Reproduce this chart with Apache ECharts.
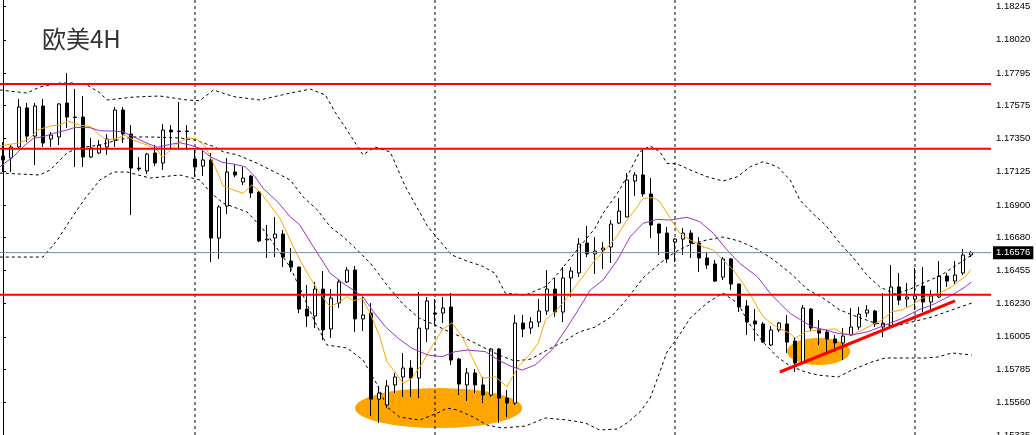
<!DOCTYPE html>
<html>
<head>
<meta charset="utf-8">
<title>欧美4H</title>
<script src="https://cdn.jsdelivr.net/npm/echarts@6/dist/echarts.min.js"></script>
<style>
html, body { margin: 0; padding: 0; background: #fff; }
#chart { width: 1036px; height: 435px; }
</style>
</head>
<body>
<div id="chart"></div>
<script>
// 4H candles: [open, close, low, high]
var candles = [
  [1.17232,1.17205,1.17123,1.17327],[1.17218,1.17293,1.17123,1.17306],[1.17293,1.17564,1.17286,1.17619],
  [1.17558,1.17367,1.17327,1.17591],[1.17367,1.17571,1.17171,1.17591],[1.17571,1.17320,1.17293,1.17619],
  [1.17347,1.17374,1.17293,1.17395],[1.17361,1.17585,1.17306,1.17591],[1.17591,1.17496,1.17422,1.17795],
  [1.17496,1.17493,1.17157,1.17687],[1.17496,1.17225,1.17157,1.17639],[1.17225,1.17286,1.17218,1.17354],
  [1.17252,1.17306,1.17245,1.17340],[1.17293,1.17347,1.17239,1.17381],[1.17340,1.17544,1.17293,1.17564],
  [1.17544,1.17381,1.17320,1.17564],[1.17381,1.17150,1.16831,1.17442],[1.17150,1.17144,1.17130,1.17225],
  [1.17130,1.17245,1.17110,1.17252],[1.17252,1.17184,1.17164,1.17306],[1.17184,1.17408,1.17137,1.17449],
  [1.17408,1.17395,1.17273,1.17442],[1.17401,1.17398,1.17273,1.17598],[1.17401,1.17398,1.17273,1.17442],
  [1.17211,1.17157,1.17089,1.17273],[1.17164,1.17205,1.17096,1.17273],[1.17205,1.16675,1.16512,1.17252],
  [1.16675,1.16886,1.16533,1.16899],[1.16892,1.17123,1.16838,1.17218],[1.17123,1.17103,1.17089,1.17177],
  [1.17055,1.17082,1.17035,1.17157],[1.17096,1.16981,1.16947,1.17103],[1.16987,1.16655,1.16648,1.16994],
  [1.16662,1.16668,1.16540,1.16764],[1.16675,1.16702,1.16546,1.16818],[1.16702,1.16546,1.16478,1.16730],
  [1.16519,1.16478,1.16444,1.16607],[1.16478,1.16193,1.16166,1.16480],[1.16193,1.16146,1.16071,1.16356],
  [1.16146,1.16329,1.16064,1.16377],[1.16329,1.16051,1.15983,1.16451],[1.16058,1.16268,1.15997,1.16329],
  [1.16234,1.16377,1.16200,1.16397],[1.16377,1.16458,1.16370,1.16478],[1.16458,1.16126,1.16037,1.16485],
  [1.16126,1.16153,1.16044,1.16275],[1.16166,1.15582,1.15467,1.16234],[1.15582,1.15623,1.15420,1.15671],
  [1.15542,1.15671,1.15521,1.15711],[1.15678,1.15732,1.15623,1.15759],[1.15732,1.15793,1.15596,1.15895],
  [1.15793,1.15725,1.15596,1.15847],[1.15725,1.16064,1.15589,1.16309],[1.16058,1.16248,1.15969,1.16275],
  [1.16166,1.16159,1.16085,1.16261],[1.16166,1.16200,1.16098,1.16275],[1.16207,1.15847,1.15813,1.16302],
  [1.15854,1.15684,1.15610,1.15861],[1.15678,1.15759,1.15569,1.15793],[1.15759,1.15678,1.15623,1.15786],
  [1.15678,1.15610,1.15555,1.15732],[1.15610,1.15922,1.15596,1.15929],[1.15922,1.15589,1.15420,1.15929],
  [1.15589,1.15555,1.15460,1.15644],[1.15555,1.16098,1.15542,1.16153],[1.16098,1.16058,1.16003,1.16153],
  [1.16064,1.16105,1.16024,1.16139],[1.16105,1.16180,1.16071,1.16261],[1.16180,1.16329,1.16153,1.16458],
  [1.16329,1.16173,1.16139,1.16404],[1.16173,1.16404,1.16105,1.16478],[1.16404,1.16451,1.16275,1.16478],
  [1.16438,1.16634,1.16410,1.16675],[1.16641,1.16567,1.16546,1.16757],[1.16567,1.16587,1.16431,1.16682],
  [1.16594,1.16607,1.16465,1.16648],[1.16614,1.16770,1.16506,1.16797],[1.16777,1.16858,1.16770,1.16947],
  [1.16818,1.17069,1.16815,1.17116],[1.17062,1.17103,1.16960,1.17123],[1.17103,1.16974,1.16954,1.17279],
  [1.16974,1.16764,1.16675,1.17082],[1.16770,1.16709,1.16560,1.16772],[1.16709,1.16533,1.16506,1.16750],
  [1.16648,1.16668,1.16512,1.16675],[1.16668,1.16709,1.16560,1.16743],[1.16709,1.16641,1.16540,1.16730],
  [1.16641,1.16540,1.16444,1.16682],[1.16540,1.16492,1.16465,1.16580],[1.16499,1.16383,1.16377,1.16526],
  [1.16410,1.16533,1.16390,1.16546],[1.16533,1.16363,1.16322,1.16540],[1.16363,1.16207,1.16173,1.16366],
  [1.16214,1.16105,1.16017,1.16254],[1.16112,1.16092,1.15976,1.16193],[1.16092,1.15969,1.15963,1.16105],
  [1.15949,1.16051,1.15942,1.16078],[1.16051,1.16098,1.16037,1.16105],[1.16092,1.15969,1.15895,1.16153],
  [1.15976,1.15827,1.15766,1.16003],[1.15827,1.16200,1.15824,1.16220],[1.16193,1.16064,1.16044,1.16200],
  [1.16058,1.16030,1.15949,1.16119],[1.16037,1.15990,1.15902,1.16058],[1.15990,1.15963,1.15902,1.16017],
  [1.15963,1.16010,1.15847,1.16064],[1.16017,1.16071,1.16010,1.16200],[1.16071,1.16159,1.16051,1.16207],
  [1.16166,1.16187,1.16139,1.16220],[1.16180,1.16092,1.16071,1.16187],[1.16071,1.16098,1.16003,1.16302],
  [1.16071,1.16343,1.16064,1.16492],[1.16343,1.16254,1.16220,1.16438],[1.16261,1.16275,1.16207,1.16370],
  [1.16261,1.16282,1.16187,1.16472],[1.16349,1.16241,1.16173,1.16478],[1.16241,1.16282,1.16187,1.16322],
  [1.16275,1.16417,1.16268,1.16519],[1.16417,1.16383,1.16343,1.16438],[1.16383,1.16424,1.16356,1.16519],
  [1.16438,1.16560,1.16424,1.16601],[1.16560,1.16576,1.16546,1.16587]
];

// indicator lines: [bar position, price]
var ma5 = [
  [-0.4,1.17300],[2.1,1.17322],[3.4,1.17352],[4.3,1.17408],[5.9,1.17435],[7.1,1.17442],[8.1,1.17469],[9.6,1.17442],
  [10.9,1.17431],[12.1,1.17374],[13.0,1.17340],[14.3,1.17352],[15.3,1.17374],[16.3,1.17340],[18.0,1.17306],[19.3,1.17273],
  [19.9,1.17223],[20.5,1.17250],[21.8,1.17318],[23.1,1.17356],[24.3,1.17345],[25.3,1.17295],[25.9,1.17227],[26.8,1.17123],
  [27.5,1.17028],[28.8,1.17001],[30.0,1.16979],[31.1,1.17035],[32.1,1.16989],[33.4,1.16899],[34.6,1.16811],[35.9,1.16662],
  [37.1,1.16526],[38.4,1.16404],[39.6,1.16300],[40.9,1.16209],[42.1,1.16243],[43.0,1.16277],[43.8,1.16250],[44.9,1.16266],
  [45.9,1.16164],[47.1,1.16005],[48.0,1.15834],[49.0,1.15766],[50.0,1.15689],[51.1,1.15723],[52.4,1.15825],[53.6,1.15938],
  [54.9,1.16051],[56.1,1.16100],[57.4,1.16005],[58.6,1.15870],[59.9,1.15723],[61.5,1.15734],[63.0,1.15666],[64.4,1.15802],
  [65.6,1.15870],[66.9,1.15961],[67.8,1.16119],[69.0,1.16175],[70.3,1.16254],[71.5,1.16345],[72.8,1.16436],[74.0,1.16526],
  [74.9,1.16571],[76.7,1.16684],[78.0,1.16797],[79.3,1.16888],[80.0,1.16945],[81.3,1.16949],[82.1,1.16922],[83.4,1.16809],
  [84.6,1.16707],[85.9,1.16662],[87.5,1.16616],[88.8,1.16594],[90.0,1.16526],[91.3,1.16458],[92.5,1.16368],[93.8,1.16254],
  [95.0,1.16141],[96.3,1.16085],[97.5,1.16051],[98.4,1.16028],[99.0,1.15994],[100.3,1.16039],[101.9,1.16051],[104.0,1.16058],
  [105.0,1.16028],[106.1,1.16017],[107.4,1.16051],[108.6,1.16085],[109.9,1.16119],[111.1,1.16175],[112.4,1.16187],[113.6,1.16220],
  [114.9,1.16266],[116.1,1.16288],[117.4,1.16311],[118.6,1.16345],[119.4,1.16379],[120.3,1.16413],[121.0,1.16463]
];
var ma10 = [
  [-0.4,1.17159],[1.3,1.17227],[2.5,1.17295],[3.8,1.17352],[5.0,1.17363],[6.3,1.17385],[8.0,1.17408],[9.0,1.17426],
  [10.9,1.17424],[12.1,1.17403],[13.8,1.17401],[15.0,1.17396],[16.3,1.17363],[18.0,1.17318],[19.3,1.17291],[20.5,1.17306],
  [22.1,1.17322],[23.4,1.17306],[24.6,1.17284],[25.9,1.17227],[27.4,1.17189],[28.8,1.17177],[30.3,1.17159],[31.5,1.17091],
  [32.5,1.17013],[34.3,1.16922],[35.9,1.16820],[37.1,1.16764],[38.4,1.16650],[39.6,1.16548],[40.9,1.16436],[42.5,1.16368],
  [43.8,1.16322],[45.0,1.16277],[46.3,1.16175],[47.8,1.16073],[49.4,1.15995],[51.1,1.15927],[53.1,1.15881],[54.9,1.15870],
  [56.5,1.15904],[58.1,1.15915],[60.3,1.15904],[61.9,1.15847],[63.6,1.15802],[64.9,1.15779],[66.5,1.15813],[68.6,1.15915],
  [70.3,1.16051],[71.9,1.16187],[73.4,1.16322],[75.0,1.16390],[76.8,1.16526],[78.4,1.16684],[80.0,1.16775],[81.8,1.16802],
  [83.4,1.16797],[85.5,1.16816],[87.1,1.16786],[88.8,1.16707],[90.5,1.16594],[92.1,1.16503],[94.3,1.16413],[95.9,1.16300],
  [97.1,1.16232],[98.4,1.16164],[99.4,1.16130],[101.1,1.16073],[102.8,1.16051],[104.4,1.16028],[106.1,1.16017],[108.1,1.16039],
  [110.3,1.16085],[112.4,1.16130],[114.4,1.16187],[116.1,1.16220],[117.8,1.16266],[119.0,1.16300],[120.3,1.16345],[121.0,1.16375]
];
var bbUpper = [
  [-0.4,1.17680],[3.0,1.17659],[4.6,1.17700],[7.1,1.17727],[8.8,1.17727],[10.5,1.17714],[12.1,1.17661],[13.0,1.17612],
  [16.3,1.17632],[19.6,1.17639],[23.0,1.17612],[24.6,1.17607],[26.3,1.17680],[28.8,1.17635],[32.1,1.17612],[35.9,1.17659],
  [38.4,1.17686],[40.3,1.17646],[41.5,1.17530],[43.0,1.17408],[45.0,1.17239],[46.5,1.17293],[48.4,1.17259],[50.3,1.17024],
  [53.1,1.16752],[56.1,1.16560],[58.0,1.16519],[59.9,1.16485],[61.5,1.16436],[62.8,1.16300],[65.3,1.16288],[67.8,1.16345],
  [69.4,1.16436],[71.1,1.16550],[72.8,1.16662],[74.0,1.16741],[75.0,1.16843],[76.8,1.16979],[78.0,1.17091],[79.6,1.17261],
  [80.9,1.17300],[82.1,1.17261],[83.0,1.17182],[84.3,1.17177],[85.9,1.17137],[88.0,1.17091],[90.0,1.17062],[91.8,1.17091],
  [93.4,1.17159],[95.0,1.17193],[96.8,1.17159],[98.4,1.17069],[99.6,1.16933],[101.3,1.16838],[102.8,1.16764],[104.6,1.16641],
  [106.3,1.16540],[108.0,1.16424],[109.6,1.16343],[111.5,1.16295],[113.4,1.16329],[115.3,1.16377],[117.1,1.16417],[119.0,1.16485],
  [121.1,1.16560]
];
var bbMiddle = [
  [-0.4,1.17116],[4.6,1.17103],[5.9,1.17137],[8.0,1.17252],[9.3,1.17286],[12.1,1.17306],[14.3,1.17340],[16.3,1.17361],
  [18.4,1.17361],[22.1,1.17354],[24.0,1.17340],[26.5,1.17293],[27.5,1.17261],[29.3,1.17239],[31.8,1.17182],[34.3,1.17114],
  [35.9,1.17069],[37.5,1.16955],[39.3,1.16865],[40.9,1.16752],[42.5,1.16684],[44.3,1.16594],[46.0,1.16499],[48.0,1.16356],
  [50.0,1.16227],[52.0,1.16132],[54.0,1.16085],[56.1,1.16030],[58.0,1.15990],[60.0,1.15935],[62.0,1.15881],[64.0,1.15840],
  [66.0,1.15854],[68.0,1.15915],[70.0,1.15969],[72.0,1.16037],[74.0,1.16071],[76.0,1.16139],[78.0,1.16261],[80.0,1.16404],
  [82.0,1.16499],[84.0,1.16580],[86.0,1.16634],[88.0,1.16662],[90.0,1.16682],[92.0,1.16655],[94.0,1.16607],[96.0,1.16540],
  [98.4,1.16438],[100.5,1.16329],[102.5,1.16268],[104.6,1.16187],[106.5,1.16146],[109.0,1.16098],[111.5,1.16078],[113.6,1.16105],
  [116.1,1.16139],[118.6,1.16187],[121.1,1.16234]
];
var bbLower = [
  [-0.4,1.16546],[5.0,1.16546],[6.8,1.16662],[8.4,1.16797],[10.3,1.16947],[12.1,1.17069],[13.8,1.17123],[15.5,1.17123],
  [18.4,1.17082],[22.1,1.17103],[24.6,1.17069],[25.9,1.16987],[27.5,1.16912],[30.5,1.16852],[32.4,1.16743],[34.3,1.16601],
  [35.9,1.16478],[37.5,1.16288],[39.0,1.16105],[40.5,1.15949],[43.0,1.15929],[45.0,1.15847],[46.8,1.15678],[48.0,1.15528],
  [49.6,1.15460],[52.1,1.15440],[54.3,1.15487],[55.5,1.15521],[56.8,1.15508],[58.8,1.15460],[60.5,1.15406],[62.4,1.15386],
  [65.3,1.15399],[67.8,1.15454],[70.6,1.15440],[72.8,1.15420],[74.6,1.15372],[76.8,1.15379],[78.0,1.15420],[79.6,1.15494],
  [80.9,1.15589],[82.1,1.15766],[83.0,1.15902],[84.3,1.15997],[85.9,1.16132],[88.0,1.16234],[90.0,1.16302],[91.8,1.16234],
  [93.4,1.16085],[95.0,1.15969],[96.8,1.15868],[98.4,1.15806],[100.3,1.15766],[101.9,1.15745],[104.4,1.15732],[106.1,1.15779],
  [108.6,1.15834],[110.3,1.15861],[112.8,1.15861],[115.3,1.15861],[116.9,1.15868],[118.6,1.15895],[121.1,1.15881]
];

// drawn objects
var levels = [1.17720, 1.17281, 1.16290];
var lastPrice = 1.16576;
var trend = [[97.1, 1.15766], [119.0, 1.16248]];
// highlighted zones: [from bar, to bar, top price, bottom price]
var zones = [[44.0, 64.9, 1.15657, 1.15386], [98.0, 105.9, 1.15997, 1.15813]];
var separators = [24, 54, 84, 114];
var yTicks = [1.18245, 1.18020, 1.17795, 1.17575, 1.17350, 1.17125, 1.16900, 1.16680,
              1.16455, 1.16230, 1.16005, 1.15785, 1.15560, 1.15335];

var yMin = 1.15335, yMax = 1.182905;
var xMin = -0.5, xMax = 123.5;

var categories = [];
for (var i = 0; i < 124; i++) categories.push(String(i));

var chart = echarts.init(document.getElementById('chart'));

function plainLine(name, data, color, width, dash, z) {
    return {
        name: name,
        type: 'line',
        xAxisIndex: 1,
        data: data,
        symbol: 'none',
        silent: true,
        z: z,
        lineStyle: { color: color, width: width, type: dash || 'solid' }
    };
}

var series = [
    {
        type: 'custom',
        xAxisIndex: 1,
        silent: true,
        z: 1,
        data: zones,
        renderItem: function (params, api) {
            var a = api.coord([api.value(0), api.value(2)]);
            var b = api.coord([api.value(1), api.value(3)]);
            var cx = (a[0] + b[0]) / 2, cy = (a[1] + b[1]) / 2;
            var rx = Math.abs(b[0] - a[0]) / 2, ry = Math.abs(b[1] - a[1]) / 2;
            return {
                type: 'path',
                shape: {
                    pathData: 'M' + (cx - rx) + ' ' + cy +
                        ' A' + rx + ' ' + ry + ' 0 1 0 ' + (cx + rx) + ' ' + cy +
                        ' A' + rx + ' ' + ry + ' 0 1 0 ' + (cx - rx) + ' ' + cy + ' Z'
                },
                style: { fill: '#FFA500', stroke: null }
            };
        }
    }
];

separators.forEach(function (s) {
    series.push(plainLine('sep' + s, [[s, yMax], [s, yMin]], '#000', 1, [3, 3], 2));
});

series.push({
    name: 'EURUSD H4',
    type: 'candlestick',
    data: candles,
    barWidth: 4,
    z: 3,
    itemStyle: {
        color: '#fff',
        color0: '#000',
        borderColor: '#000',
        borderColor0: '#000',
        borderWidth: 1
    }
});

series.push(plainLine('BB upper', bbUpper, '#000', 1, [3, 3], 4));
series.push(plainLine('BB middle', bbMiddle, '#000', 1, [3, 3], 4));
series.push(plainLine('BB lower', bbLower, '#000', 1, [3, 3], 4));
series.push(plainLine('MA5', ma5, '#FFA500', 1, null, 4));
series.push(plainLine('MA10', ma10, '#9932CC', 1, null, 4));

var priceLine = plainLine('last', [[xMin, lastPrice], [xMax, lastPrice]], '#778899', 1, null, 5);
priceLine.endLabel = {
    show: true,
    distance: 2,
    formatter: function () { return lastPrice.toFixed(5); },
    backgroundColor: '#000',
    color: '#fff',
    padding: [2, 3, 1, 3],
    fontSize: 9.5,
    fontFamily: 'Liberation Sans'
};
series.push(priceLine);

levels.forEach(function (v, k) {
    series.push(plainLine('level' + k, [[xMin, v], [xMax, v]], '#ff0000', 2, null, 6));
});
series.push(plainLine('trend', trend, '#ff0000', 3, null, 6));

chart.setOption({
    animation: false,
    backgroundColor: '#fff',
    title: {
        text: '欧美4H',
        left: 37,
        top: 22,
        textStyle: { fontSize: 24, fontWeight: 'normal', color: '#333', fontFamily: 'Noto Sans CJK SC' }
    },
    grid: { left: -1, top: 0, width: 992, height: 435.5, outerBoundsMode: 'none' },
    xAxis: [
        { type: 'category', data: categories, boundaryGap: true, show: false },
        { type: 'value', min: xMin, max: xMax, show: false }
    ],
    yAxis: {
        type: 'value',
        position: 'right',
        min: yMin,
        max: yMax,
        axisLine: { show: true, lineStyle: { color: '#000', width: 1 } },
        axisTick: { show: true, length: 3, lineStyle: { color: '#000' }, customValues: yTicks },
        axisLabel: {
            customValues: yTicks,
            formatter: function (v) { return v.toFixed(5); },
            color: '#000',
            fontSize: 9.5,
            fontFamily: 'Liberation Sans',
            margin: 5
        },
        splitLine: { show: false }
    },
    series: series
});

window.addEventListener('resize', function () {
    chart.resize();
});
</script>
</body>
</html>
